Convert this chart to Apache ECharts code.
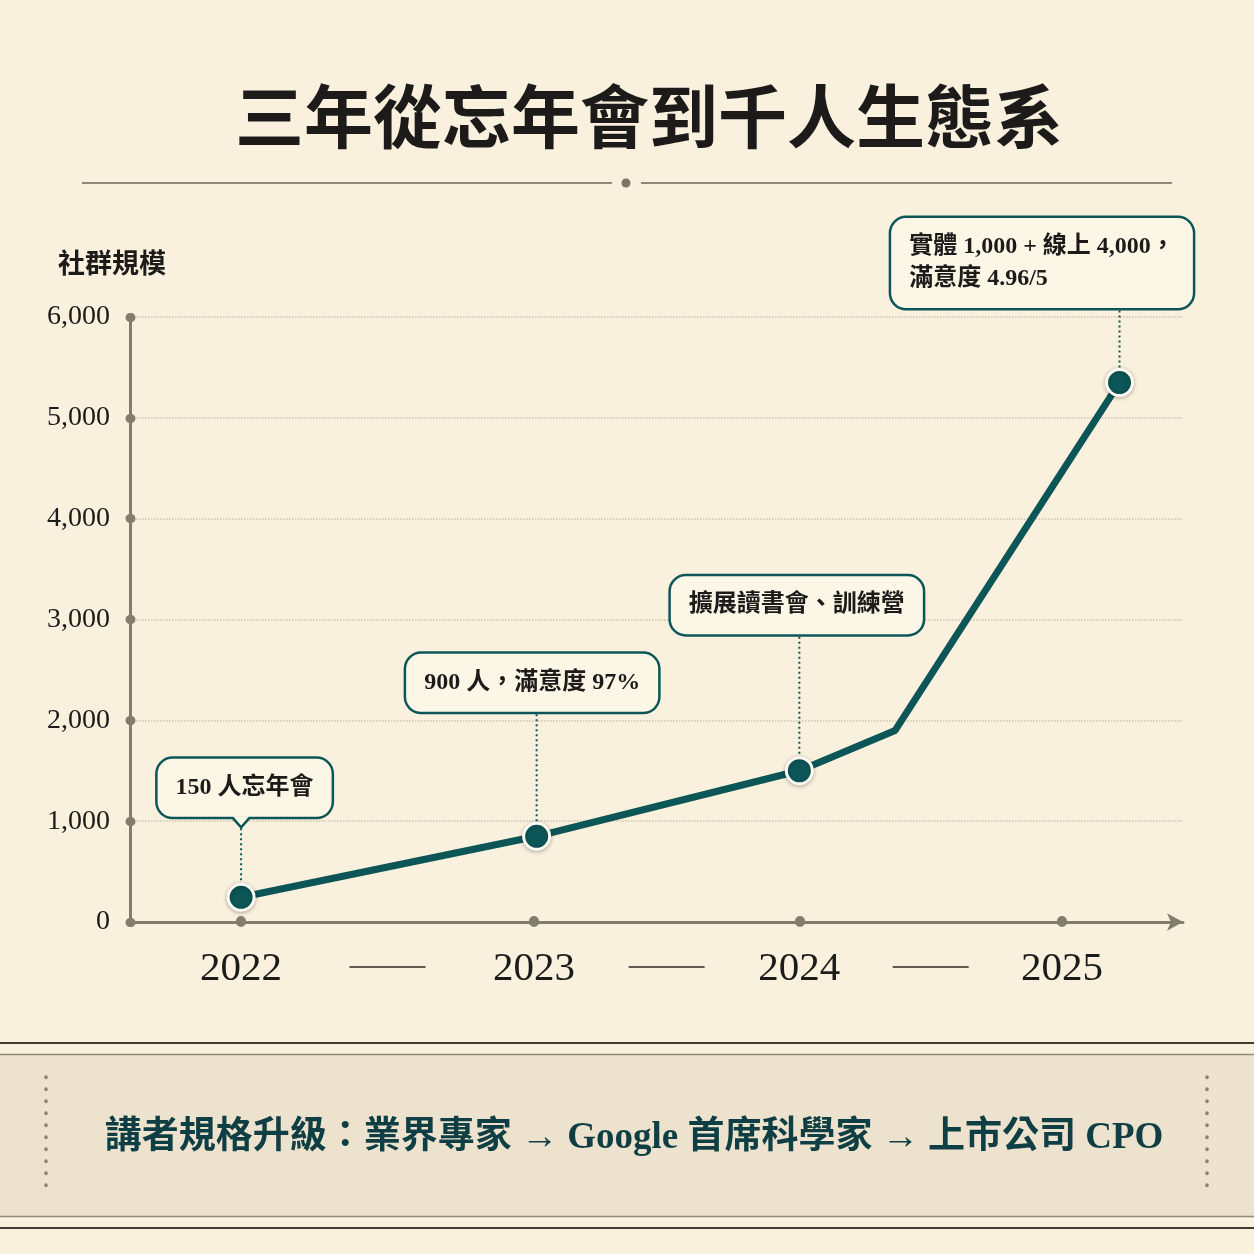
<!DOCTYPE html>
<html lang="zh-Hant">
<head>
<meta charset="UTF-8">
<title>三年從忘年會到千人生態系</title>
<style>
  html, body { margin: 0; padding: 0; background: #f9f1de; }
  #main { width: 1254px; height: 1254px; }
</style>
</head>
<body>
<div id="main"></div>
<script src="https://cdn.jsdelivr.net/npm/echarts@6/dist/echarts.min.js"></script>
<script>
// data
var years = [2022, 2023.08, 2024.04, 2024.39, 2025.21];
var members = [245, 850, 1500, 1900, 5350];
var notes = ['150 人忘年會', '900 人，滿意度 97%', '擴展讀書會、訓練營', '', '實體 1,000 + 線上 4,000，\n滿意度 4.96/5'];
var tickYears = [2022, 2023.07, 2024.04, 2025];
var tickLabels = ['2022', '2023', '2024', '2025'];
var yMax = 6000;
var yStep = 1000;

var SERIF = "'Liberation Serif', 'Noto Sans CJK TC', serif";
var TEAL = '#0c5658';
var AXIS = '#857d6c';
var BOX_BG = '#fcf6e7';

// label box placement: [dx of box centre, gap from point centre to box bottom]
var noteShift = { 0: [6, 79], 1: [-2, 123], 2: [0, 135], 4: [-75, 73] };
var LABEL_BASE = 18; // symbol half size + label distance

var chart = echarts.init(document.getElementById('main'));

var points = years.map(function (x, i) {
  var item = { value: [x, members[i]] };
  if (!notes[i]) {
    item.symbol = 'none';
    item.label = { show: false };
  }
  return item;
});

var leaders = [];
years.forEach(function (x, i) {
  if (notes[i]) leaders.push([x, members[i], i]);
});

chart.setOption({
  backgroundColor: '#f9f1de',
  animation: false,
  title: {
    text: '三年從忘年會到千人生態系',
    left: 230,
    top: 86,
    textStyle: { fontFamily: SERIF, fontSize: 69, fontWeight: 'bold', color: '#1c1b19' }
  },
  grid: { left: 130, right: 71, top: 317, bottom: 332 },
  xAxis: {
    type: 'value',
    min: 2021.594,
    max: 2025.442,
    axisLine: {
      show: true,
      symbol: ['none', 'arrow'],
      symbolSize: [13, 16],
      lineStyle: { color: AXIS, width: 3 }
    },
    axisTick: {
      show: true,
      customValues: tickYears,
      length: 1,
      inside: true,
      lineStyle: { color: AXIS, width: 10, cap: 'round' }
    },
    axisLabel: {
      customValues: tickYears,
      margin: 27,
      fontFamily: SERIF,
      fontSize: 41,
      color: '#1c1b19',
      formatter: function (v) {
        var k = tickYears.indexOf(v);
        return k >= 0 ? tickLabels[k] : String(Math.round(v));
      }
    },
    splitLine: { show: false }
  },
  yAxis: {
    type: 'value',
    min: 0,
    max: yMax,
    interval: yStep,
    name: '社群規模',
    nameLocation: 'end',
    nameGap: 37,
    nameTextStyle: {
      fontFamily: SERIF, fontSize: 27, fontWeight: 'bold', color: '#1c1b19',
      align: 'center', padding: [0, 36, 0, 0]
    },
    axisLine: { show: true, lineStyle: { color: AXIS, width: 3 } },
    axisTick: {
      show: true,
      length: 1,
      inside: true,
      lineStyle: { color: AXIS, width: 9, cap: 'round' }
    },
    axisLabel: {
      margin: 20,
      fontFamily: SERIF,
      fontSize: 28,
      color: '#1c1b19',
      formatter: function (v) { return v.toLocaleString('en-US'); }
    },
    splitLine: { show: true, lineStyle: { color: '#cdc3ac', width: 1.5, type: 'dotted' } }
  },
  series: [{
    type: 'line',
    z: 2,
    data: points,
    symbol: 'circle',
    symbolSize: 26,
    lineStyle: { color: TEAL, width: 7 },
    itemStyle: {
      color: TEAL, borderColor: '#fdfaf1', borderWidth: 3,
      shadowColor: 'rgba(0,0,0,0.25)', shadowBlur: 4, shadowOffsetY: 1
    },
    label: {
      show: true,
      position: 'top',
      distance: 5,
      formatter: function (p) { return notes[p.dataIndex]; },
      fontFamily: SERIF,
      fontSize: 24,
      fontWeight: 'bold',
      lineHeight: 32,
      color: '#1c1b19',
      backgroundColor: BOX_BG,
      borderColor: TEAL,
      borderWidth: 2.5,
      borderRadius: 15,
      padding: [13, 18],
      align: 'left'
    },
    labelLayout: function (p) {
      var s = noteShift[p.dataIndex];
      if (!s) return {};
      return { dx: s[0] - p.labelRect.width / 2, dy: LABEL_BASE - s[1] };
    }
  }, {
    // dotted leaders from each note down to its point
    type: 'custom',
    z: 10,
    silent: true,
    data: leaders,
    renderItem: function (params, api) {
      var idx = api.value(2);
      var p = api.coord([api.value(0), api.value(1)]);
      var gap = noteShift[idx][1];
      var yb = p[1] - gap;
      var kids = [];
      var top = yb + 1;
      if (idx === 0) {
        kids.push({
          type: 'polygon',
          shape: { points: [[p[0] - 8, yb - 2], [p[0] + 8, yb - 2], [p[0], yb + 9]] },
          style: { fill: BOX_BG }
        }, {
          type: 'polyline',
          shape: { points: [[p[0] - 8, yb], [p[0], yb + 9], [p[0] + 8, yb]] },
          style: { stroke: TEAL, lineWidth: 2.5, fill: null }
        });
        top = yb + 10;
      }
      kids.push({
        type: 'line',
        shape: { x1: p[0], y1: top, x2: p[0], y2: p[1] - 14 },
        style: { stroke: TEAL, lineWidth: 2, lineDash: [2, 3] }
      });
      return { type: 'group', children: kids };
    }
  }]
});

// decorations
var px = function (v) { return chart.convertToPixel({ xAxisIndex: 0 }, v); };
var els = [];
for (var i = 0; i < tickYears.length - 1; i++) {
  var mid = (px(tickYears[i]) + px(tickYears[i + 1])) / 2;
  els.push({
    type: 'line', shape: { x1: mid - 38, y1: 967, x2: mid + 38, y2: 967 },
    style: { stroke: '#2a2825', lineWidth: 1.5 }, silent: true
  });
}
// title divider
els.push(
  { type: 'line', shape: { x1: 82, y1: 183, x2: 612, y2: 183 }, style: { stroke: '#8f8877', lineWidth: 2 } },
  { type: 'circle', shape: { cx: 626, cy: 183, r: 4.5 }, style: { fill: '#7d7666' } },
  { type: 'line', shape: { x1: 641, y1: 183, x2: 1172, y2: 183 }, style: { stroke: '#8f8877', lineWidth: 2 } }
);
// bottom banner
els.push(
  { type: 'rect', shape: { x: 0, y: 1055, width: 1254, height: 161 }, style: { fill: '#ece2cd' } },
  { type: 'line', shape: { x1: 0, y1: 1043, x2: 1254, y2: 1043 }, style: { stroke: '#3f3c35', lineWidth: 2 } },
  { type: 'line', shape: { x1: 0, y1: 1054.5, x2: 1254, y2: 1054.5 }, style: { stroke: '#8f8877', lineWidth: 1.5 } },
  { type: 'line', shape: { x1: 0, y1: 1216.5, x2: 1254, y2: 1216.5 }, style: { stroke: '#8f8877', lineWidth: 1.5 } },
  { type: 'line', shape: { x1: 0, y1: 1228, x2: 1254, y2: 1228 }, style: { stroke: '#3f3c35', lineWidth: 2 } },
  { type: 'line', shape: { x1: 46, y1: 1077, x2: 46, y2: 1196 },
    style: { stroke: '#8a8373', lineWidth: 3.5, lineDash: [0.5, 11.5], lineCap: 'round' } },
  { type: 'line', shape: { x1: 1207, y1: 1077, x2: 1207, y2: 1196 },
    style: { stroke: '#8a8373', lineWidth: 3.5, lineDash: [0.5, 11.5], lineCap: 'round' } },
  { type: 'text', x: 634, y: 1138,
    style: {
      text: '講者規格升級：業界專家 → Google 首席科學家 → 上市公司 CPO',
      font: 'bold 37px ' + SERIF, fill: '#0f3f44', align: 'center', verticalAlign: 'middle'
    } }
);
chart.setOption({ graphic: { elements: els } });
</script>
</body>
</html>
